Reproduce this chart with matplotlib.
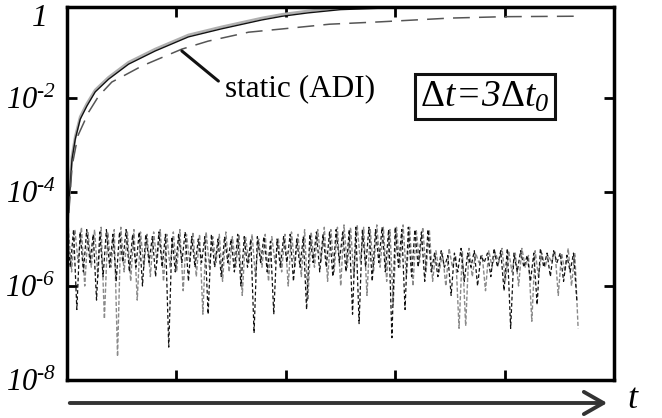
import numpy as np
import matplotlib
matplotlib.use("Agg")
import matplotlib.pyplot as plt

plt.rcParams['font.family'] = ['Liberation Serif', 'DejaVu Serif']
plt.rcParams['mathtext.fontset'] = 'custom'
plt.rcParams['mathtext.rm'] = 'Liberation Serif:italic'
plt.rcParams['mathtext.it'] = 'Liberation Serif:italic'
plt.rcParams['mathtext.sf'] = 'Liberation Serif'

# smooth curves: (t, log10 value)
t_curve = [0.0, 0.005, 0.0155, 0.046, 0.076, 0.121, 0.182, 0.258, 0.38, 0.563, 0.806, 1.11, 1.41, 1.78, 1.97, 2.2, 2.5, 2.86, 3.5, 4.66]
log_black = [-5.0, -4.7, -4.30, -3.30, -2.87, -2.45, -2.17, -1.87, -1.60, -1.28, -1.00, -0.70, -0.53, -0.34, -0.26, -0.19, -0.12, -0.09, -0.08, -0.08]
log_gray = [-4.9, -4.6, -4.22, -3.24, -2.82, -2.40, -2.12, -1.83, -1.56, -1.24, -0.96, -0.66, -0.49, -0.30, -0.22, -0.15, -0.08, -0.05, -0.04, -0.04]
t_adi = [0.0, 0.015, 0.046, 0.10, 0.198, 0.289, 0.41, 0.50, 0.684, 0.836, 1.05, 1.29, 1.66, 1.97, 2.40, 2.86, 3.50, 4.00, 4.66]
log_adi = [-5.0, -4.5, -3.45, -2.8, -2.30, -1.96, -1.66, -1.55, -1.32, -1.17, -0.96, -0.79, -0.60, -0.53, -0.43, -0.38, -0.30, -0.27, -0.26]

# error noise, log10 of peaks and troughs (first stretch up to t=3.33, then the rest)
black_pk1 = [-4.85, -4.8, -4.85, -4.8, -4.9, -4.85, -4.8, -4.9, -4.85, -4.8,
             -4.9, -4.85, -4.9, -4.95, -4.85, -4.9, -4.95, -4.9, -4.85, -4.95,
             -5.0, -4.95, -4.9, -5.0, -4.95, -5.0, -4.9, -4.95, -5.0, -4.95,
             -4.95, -5.05, -5.0, -4.95, -4.9, -5.0, -4.95, -4.9, -4.85, -4.9,
             -4.85, -4.8, -4.85, -4.8, -4.75, -4.8, -4.75, -4.8, -4.75, -4.8,
             -4.75, -4.8, -4.75, -4.8, -4.85, -4.8]
black_tr1 = [-5.6, -6.5, -5.7, -5.5, -6.3, -5.8, -5.6, -5.9, -5.5, -5.7,
             -5.6, -6.0, -5.5, -5.8, -5.6, -7.3, -5.7, -5.5, -5.9, -5.6,
             -5.5, -6.6, -5.6, -5.8, -5.5, -5.7, -6.0, -5.6, -7.0, -5.5,
             -5.7, -6.6, -5.6, -5.5, -5.9, -5.6, -6.5, -5.5, -5.7, -5.6,
             -5.8, -5.5, -5.7, -6.6, -6.8, -5.6, -5.9, -5.5, -5.7, -7.1,
             -5.6, -6.5, -5.8, -5.6, -5.9, -5.7]
gray_pk1 = [-4.75, -4.8, -4.75, -4.85, -4.8, -4.75, -4.85, -4.8, -4.75, -4.85,
            -4.8, -4.85, -4.9, -4.85, -4.8, -4.9, -4.85, -4.8, -4.9, -4.85,
            -4.9, -4.85, -4.95, -4.9, -4.85, -4.95, -4.9, -4.95, -4.9, -5.0,
            -4.9, -4.95, -5.0, -4.9, -4.85, -4.9, -4.8, -4.85, -4.8, -4.75,
            -4.8, -4.75, -4.7, -4.75, -4.7, -4.75, -4.8, -4.7, -4.75, -4.8,
            -4.75, -4.7, -4.75, -4.8, -4.75, -4.8]
gray_tr1 = [-5.7, -5.5, -6.0, -5.6, -5.8, -6.7, -5.6, -7.5, -5.7, -5.9,
            -6.3, -5.6, -5.8, -5.5, -5.9, -5.6, -5.7, -6.1, -5.5, -5.8,
            -6.6, -5.6, -5.5, -5.9, -5.7, -5.6, -6.2, -5.5, -5.8, -5.6,
            -5.9, -5.5, -5.7, -6.0, -5.6, -5.8, -6.3, -5.6, -5.5, -5.9,
            -5.7, -6.0, -5.6, -5.8, -5.5, -6.2, -5.7, -5.6, -5.9, -6.4,
            -5.6, -5.8, -6.0, -5.5, -5.7, -5.9]
black_pk2 = [-5.3, -5.25, -5.35, -5.3, -5.2, -5.3, -5.25, -5.35, -5.3, -5.2, -5.25,
             -5.2, -5.3, -5.25, -5.35, -5.3, -5.2, -5.3, -5.25, -5.3, -5.35, -5.3]
black_tr2 = [-5.8, -5.6, -6.2, -5.7, -5.9, -5.6, -6.0, -5.5, -5.8, -5.6, -6.1,
             -6.9, -5.7, -5.6, -5.9, -6.4, -5.6, -5.8, -5.5, -5.9, -5.7, -6.3]
gray_pk2 = [-5.25, -5.3, -5.2, -5.35, -5.25, -5.2, -5.3, -5.35, -5.25, -5.3, -5.2,
            -5.25, -5.3, -5.2, -5.35, -5.25, -5.3, -5.35, -5.25, -5.3, -5.2, -5.3]
gray_tr2 = [-5.7, -6.0, -5.6, -6.9, -6.85, -5.8, -5.5, -6.1, -5.6, -5.5, -5.9,
            -5.7, -6.0, -5.6, -6.75, -5.8, -5.6, -5.5, -6.2, -5.7, -6.0, -6.9]

y_ticks = [1e-8, 1e-6, 1e-4, 1e-2]
y_labels = [r'$10^{\text{-}8}$', r'$10^{\text{-}6}$', r'$10^{\text{-}4}$', r'$10^{\text{-}2}$']


def interleave(pk, tr):
    return np.column_stack([pk, tr]).ravel()


black_noise = np.concatenate([interleave(black_pk1, black_tr1), interleave(black_pk2, black_tr2)])
gray_noise = np.concatenate([interleave(gray_pk1, gray_tr1), interleave(gray_pk2, gray_tr2)])
n1 = 2 * len(black_pk1)
n2 = 2 * len(black_pk2)
t_noise = np.concatenate([np.linspace(0, 3.33, n1), np.linspace(3.36, 4.66, n2)])
t_noise_g = t_noise + 0.012

fig = plt.figure(figsize=(6.62, 4.18), dpi=100)
ax = fig.add_axes([67 / 662, 1 - 380 / 418, (614 - 67) / 662, (380 - 7) / 418])

ax.plot(t_noise_g, 10 ** gray_noise, color='#8a8a8a', lw=1.0, dashes=(3, 1.5))
ax.plot(t_noise, 10 ** black_noise, color='#111111', lw=0.9, dashes=(3, 2))
ax.plot(t_curve, 10 ** np.array(log_gray), color='#b0b0b0', lw=2.0)
ax.plot(t_curve, 10 ** np.array(log_black), color='#111111', lw=1.0)
ax.plot(t_adi, 10 ** np.array(log_adi), color='#555555', lw=1.1, dashes=(11, 6))

ax.set_yscale('log')
ax.set_xlim(0, 5)
ax.set_ylim(1e-8, 10 ** -0.064)
ax.set_xticks([1, 2, 3, 4])
ax.set_xticklabels([])
ax.set_yticks(y_ticks)
ax.set_yticklabels(y_labels)
ax.minorticks_off()
ax.tick_params(direction='in', top=True, right=True, length=7, width=2, labelsize=22, pad=8)
for s in ax.spines.values():
    s.set_linewidth(2.5)

ax.text(-0.04, 10 ** -0.3, r'$1$', transform=ax.get_yaxis_transform(),
        ha='right', va='center', fontsize=23)

ax.annotate('', xy=(1.05, 10 ** -1.0), xytext=(1.384, 10 ** -1.64),
            arrowprops=dict(arrowstyle='-', lw=2.2, color='#111111', shrinkA=0, shrinkB=0))
ax.text(1.44, 10 ** -1.81, 'static (ADI)', fontsize=22.5, ha='left', va='center')

ax.text(0.764, 0.759, r'$\mathsf{\Delta}t\!=\!3\mathsf{\Delta}t_{0}$', transform=ax.transAxes,
        ha='center', va='center', fontsize=27,
        bbox=dict(boxstyle='square,pad=0.14', fc='white', ec='#111111', lw=2.2))

fig.patches.append(matplotlib.patches.FancyArrowPatch(
    (67 / 662, 1 - 403 / 418), (610 / 662, 1 - 403 / 418), transform=fig.transFigure,
    arrowstyle='->,head_length=7,head_width=4', mutation_scale=2, lw=2.8, color='#333333'))
fig.text(633 / 662, 1 - 399 / 418, r'$t$', fontsize=26, ha='center', va='center')

fig.savefig('out.png', dpi=100)
